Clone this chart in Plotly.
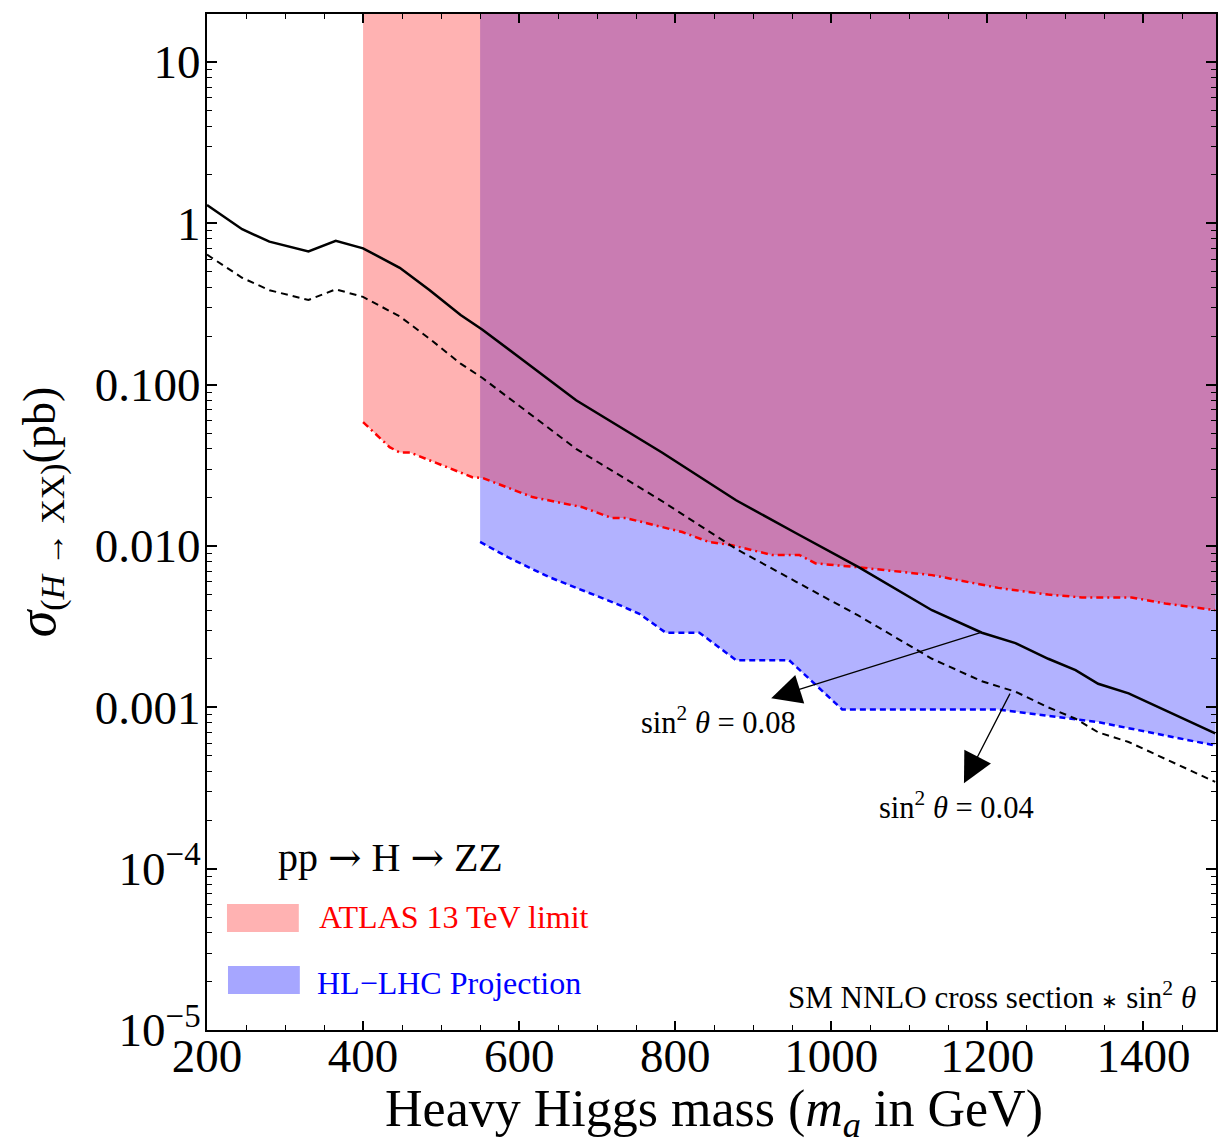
import plotly.graph_objects as go

# ---------------- data ----------------
mass_sm = [200, 245, 280, 330, 365, 400, 447, 485, 525, 553, 600, 673, 783, 843, 878,
           955, 1035, 1129, 1193, 1236, 1278, 1313, 1342, 1381, 1492]
xs_008 = [1.30, 0.92, 0.77, 0.67, 0.78, 0.70, 0.53, 0.386, 0.27, 0.219, 0.148, 0.080,
          0.038, 0.0245, 0.0192, 0.012, 0.0074, 0.0040, 0.0029, 0.0025, 0.0020, 0.0017,
          0.0014, 0.00122, 0.00069]
xs_004 = [0.64, 0.46, 0.385, 0.335, 0.39, 0.35, 0.265, 0.193, 0.135, 0.11, 0.074, 0.040,
          0.019, 0.0123, 0.0096, 0.006, 0.0037, 0.002, 0.00145, 0.00125, 0.001, 0.00085,
          0.0007, 0.00061, 0.000345]

mass_atlas = [400, 434, 447, 460, 485, 540, 553, 617, 681, 719, 737, 788, 809, 843, 873,
              924, 959, 980, 1032, 1129, 1214, 1278, 1321, 1385, 1428, 1492]
lim_atlas = [0.0586, 0.041, 0.038, 0.038, 0.034, 0.0267, 0.0264, 0.0201, 0.0174, 0.0149,
             0.0149, 0.0129, 0.0122, 0.0106, 0.0101, 0.0088, 0.0088, 0.0078, 0.0074,
             0.0066, 0.0055, 0.0050, 0.0048, 0.0048, 0.0044, 0.0040]

mass_hl = [550, 588, 639, 681, 724, 754, 788, 831, 878, 946, 1014, 1214, 1300, 1342, 1492]
lim_hl = [0.0106, 0.0084, 0.0064, 0.0053, 0.0044, 0.0038, 0.0029, 0.0029, 0.00196,
          0.00196, 0.00097, 0.00097, 0.00086, 0.00081, 0.00058]

x_ticks = [200, 400, 600, 800, 1000, 1200, 1400]
y_ticks = [10, 1, 0.1, 0.01, 0.001, 1e-4, 1e-5]
y_ticktext = ["10", "1", "0.100", "0.010", "0.001", "10<sup>\u22124</sup>", "10<sup>\u22125</sup>"]

X_MAX = 1493
Y_TOP = 10 ** 1.2976
FONT = "Liberation Serif"
ARROW = "<span style=\"font-family:'DejaVu Serif'\">\u2192</span>"

fig = go.Figure()

# HL-LHC projection region (drawn first)
fig.add_trace(go.Scatter(
    x=mass_hl + [X_MAX + 20, mass_hl[0]],
    y=lim_hl + [Y_TOP * 5, Y_TOP * 5],
    fill="toself", fillcolor="rgba(0,0,255,0.3)", mode="none",
    hoverinfo="skip", showlegend=False))
# ATLAS 13 TeV region
fig.add_trace(go.Scatter(
    x=mass_atlas + [X_MAX + 20, mass_atlas[0]],
    y=lim_atlas + [Y_TOP * 5, Y_TOP * 5],
    fill="toself", fillcolor="rgba(255,0,0,0.3)", mode="none",
    hoverinfo="skip", showlegend=False))

# boundaries
fig.add_trace(go.Scatter(x=mass_hl, y=lim_hl, mode="lines",
                         line=dict(color="#0000ff", width=2.5, dash="6px,4px"),
                         showlegend=False))
fig.add_trace(go.Scatter(x=mass_atlas, y=lim_atlas, mode="lines",
                         line=dict(color="#ff0000", width=2.5, dash="7px,4px,2px,4px"),
                         showlegend=False))

# SM cross sections
fig.add_trace(go.Scatter(x=mass_sm, y=xs_008, mode="lines",
                         line=dict(color="black", width=2.5), showlegend=False))
fig.add_trace(go.Scatter(x=mass_sm, y=xs_004, mode="lines",
                         line=dict(color="black", width=2, dash="7px,5px"),
                         showlegend=False))

annotations = [
    # arrows
    dict(x=923, y=-2.943, ax=1193, ay=-2.534, xref="x", yref="y", axref="x", ayref="y",
         text="", showarrow=True, arrowhead=2, arrowsize=4.6, arrowwidth=1.3, arrowcolor="black"),
    dict(x=1170, y=-3.47, ax=1230, ay=-2.906, xref="x", yref="y", axref="x", ayref="y",
         text="", showarrow=True, arrowhead=2, arrowsize=4.6, arrowwidth=1.3, arrowcolor="black"),
    dict(x=856, y=-3.079, xref="x", yref="y", showarrow=False, xanchor="center", yanchor="middle",
         text="sin<sup>2</sup> <i>\u03b8</i> = 0.08", font=dict(family=FONT, size=30.5, color="black")),
    dict(x=1161, y=-3.61, xref="x", yref="y", showarrow=False, xanchor="center", yanchor="middle",
         text="sin<sup>2</sup> <i>\u03b8</i> = 0.04", font=dict(family=FONT, size=30.5, color="black")),
    # process label & legend
    dict(x=0.182, y=0.170, xref="paper", yref="paper", showarrow=False,
         xanchor="center", yanchor="middle",
         text="pp " + ARROW + " H " + ARROW + " ZZ", font=dict(family=FONT, size=40, color="black")),
    dict(x=0.1088, y=0.1112, xref="paper", yref="paper", xanchor="left", yanchor="middle",
         showarrow=False,
         text="ATLAS 13 TeV limit", font=dict(family=FONT, size=32, color="#ff0000")),
    dict(x=0.1068, y=0.0463, xref="paper", yref="paper", xanchor="left", yanchor="middle",
         showarrow=False,
         text="HL\u2212LHC Projection", font=dict(family=FONT, size=32, color="#0000ff")),
    dict(x=0.982, y=0.0344, xref="paper", yref="paper", xanchor="right", yanchor="middle",
         showarrow=False,
         text="SM NNLO cross section <span style=\"font-size:20px\">\u2217</span> sin<sup>2</sup> <i>\u03b8</i>",
         font=dict(family=FONT, size=31, color="black")),
    # axis titles
    dict(x=0.5025, y=-0.0816, xref="paper", yref="paper", showarrow=False,
         xanchor="center", yanchor="middle",
         text="Heavy Higgs mass (<i>m<sub>a</sub></i> in GeV)",
         font=dict(family=FONT, size=52, color="black")),
    dict(x=-0.166, y=0.51, xref="paper", yref="paper", showarrow=False, textangle=-90,
         xanchor="center", yanchor="middle",
         text="<span style=\"font-size:54px\"><i>\u03c3</i></span><sub><span style=\"font-size:34px\">(<i>H</i> \u2192 XX)</span></sub>(pb)",
         font=dict(family=FONT, size=46, color="black")),
]

shapes = [
    dict(type="rect", xref="paper", yref="paper", x0=0.0198, x1=0.091, y0=0.0965, y1=0.124,
         fillcolor="rgba(255,0,0,0.3)", line=dict(width=0)),
    dict(type="rect", xref="paper", yref="paper", x0=0.0208, x1=0.092, y0=0.0354, y1=0.063,
         fillcolor="rgba(0,0,255,0.35)", line=dict(width=0)),
]

minor_y = [m * 10 ** e for e in range(-5, 2) for m in range(2, 10)]

fig.update_layout(
    width=1218, height=1147,
    margin=dict(l=207, r=0, t=14, b=117),
    paper_bgcolor="white", plot_bgcolor="white",
    annotations=annotations, shapes=shapes,
    font=dict(family=FONT, color="black"),
    xaxis=dict(range=[200, X_MAX], tickvals=x_ticks, ticks="inside", ticklen=9, tickwidth=1.5,
               tickcolor="black", showline=True, linewidth=2, linecolor="black", mirror="ticks",
               showgrid=False, zeroline=False, ticklabelstandoff=-16,
               tickfont=dict(family=FONT, size=47, color="black"),
               minor=dict(ticks="inside", ticklen=5, tickwidth=1.2, tickcolor="black",
                          dtick=50, tick0=0, showgrid=False)),
    yaxis=dict(type="log", range=[-5, 1.2976], tickvals=y_ticks, ticktext=y_ticktext,
               ticks="inside", ticklen=10, tickwidth=1.5, tickcolor="black",
               showline=True, linewidth=2, linecolor="black", mirror="ticks",
               showgrid=False, zeroline=False, ticklabelstandoff=-5,
               tickfont=dict(family=FONT, size=47, color="black"),
               minor=dict(ticks="inside", ticklen=5, tickwidth=1.2, tickcolor="black",
                          tickvals=minor_y, showgrid=False)),
)

fig.write_html("out.html", config={"displayModeBar": False},
               post_script="document.body.style.margin='0';document.body.style.overflow='hidden';")
